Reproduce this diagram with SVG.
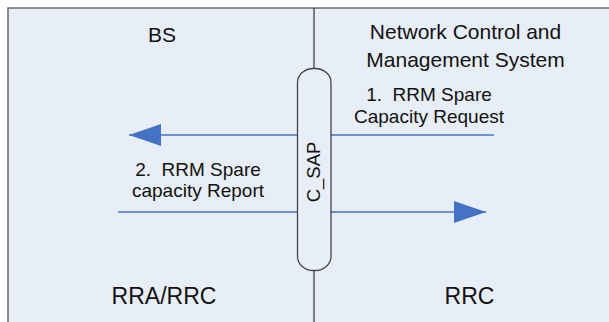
<svg xmlns="http://www.w3.org/2000/svg" width="609" height="322" viewBox="0 0 609 322">
  <style>
    .t { font-family: "Liberation Sans", Arial, sans-serif; fill: #111; }
    .conn { stroke: #4472C4; stroke-width: 1.4; fill: none; }
  </style>
  <defs>
    <marker id="ah" viewBox="0 0 32 22" refX="32" refY="11" markerWidth="32" markerHeight="22" markerUnits="userSpaceOnUse" orient="auto">
      <path d="M0,0 L32,11 L0,22 Z" fill="#4472C4"/>
    </marker>
  </defs>
  <rect x="0" y="0" width="609" height="322" fill="#ffffff"/>
  <g id="frame">
    <rect x="8" y="8" width="610" height="320" fill="#E8EEF8" stroke="#6a6a6a" stroke-width="1.5"/>
    <line x1="314" y1="8" x2="314" y2="322" stroke="#333" stroke-width="1.2"/>
  </g>
  <g id="bs">
    <text class="t" x="162" y="42" font-size="21" text-anchor="middle">BS</text>
  </g>
  <g id="ncms">
    <text class="t" x="465.5" y="39" font-size="21" text-anchor="middle">Network Control and</text>
    <text class="t" x="465.5" y="67" font-size="21" text-anchor="middle">Management System</text>
  </g>
  <g id="rra-rrc">
    <text class="t" x="164" y="304" font-size="23" text-anchor="middle">RRA/RRC</text>
  </g>
  <g id="rrc">
    <text class="t" x="469.5" y="304" font-size="23" text-anchor="middle">RRC</text>
  </g>
  <g id="connectors">
    <line class="conn" x1="494" y1="135" x2="129" y2="135" marker-end="url(#ah)"/>
    <line class="conn" x1="118" y1="212" x2="486" y2="212" marker-end="url(#ah)"/>
  </g>
  <g id="c_sap">
    <rect x="297.5" y="68.5" width="33.5" height="202" rx="16" ry="14" fill="#E8EEF8" stroke="#444" stroke-width="1.3"/>
    <text class="t" font-size="18.5" text-anchor="middle" transform="translate(319.5,172) rotate(-90)">C_SAP</text>
  </g>
  <g id="label1">
    <text class="t" x="429" y="101" font-size="19" text-anchor="middle" xml:space="preserve">1.  RRM Spare</text>
    <text class="t" x="429" y="123" font-size="19" text-anchor="middle">Capacity Request</text>
  </g>
  <g id="label2">
    <text class="t" x="198" y="176" font-size="19" text-anchor="middle" xml:space="preserve">2.  RRM Spare</text>
    <text class="t" x="198" y="197" font-size="19" text-anchor="middle">capacity Report</text>
  </g>
</svg>
